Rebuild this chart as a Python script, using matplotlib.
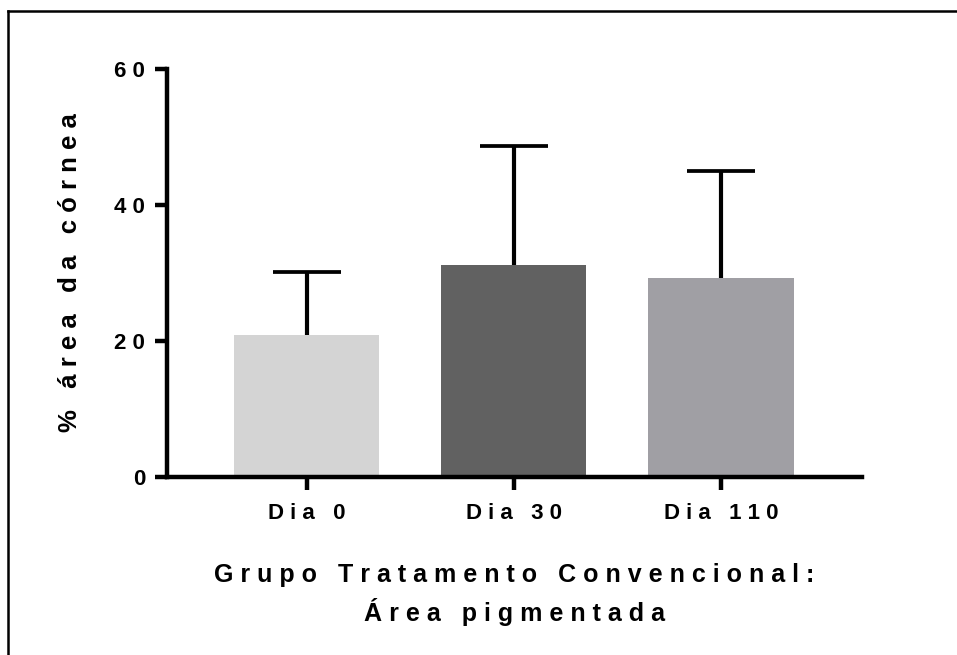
import numpy as np
import matplotlib
matplotlib.use("Agg")
import matplotlib.pyplot as plt
from matplotlib.lines import Line2D

plt.rcParams["font.family"] = ["Liberation Sans", "DejaVu Sans"]
plt.rcParams["font.weight"] = "bold"

# mean and upper SD per time point
groups = ["Dia 0", "Dia 30", "Dia 110"]
means = [20.9, 31.1, 29.3]
sds = [9.2, 17.5, 15.7]
colors = ["#d4d4d4", "#616161", "#a09fa4"]
yticks = [0, 20, 40, 60]


def spaced(s):
    # wide tracking, Prism style
    return " ".join(s)


fig = plt.figure(figsize=(9.57, 6.55), dpi=100)
ax = fig.add_axes([0.175, 0.2718, 0.7254, 0.6229])

x = np.arange(len(groups))
ax.bar(x, means, width=0.70, color=colors, edgecolor="none", zorder=2)
_, caps, _ = ax.errorbar(x, means, yerr=[np.zeros(len(sds)), sds], fmt="none",
                         ecolor="black", elinewidth=3.0, capsize=24.8,
                         capthick=2.7, zorder=3)
# only the upper cap is shown
for cl in caps:
    if np.allclose(cl.get_ydata(), means):
        cl.set_visible(False)

ax.set_xlim(-0.671, 2.679)
ax.set_ylim(0, 60)
ax.set_xticks(x)
ax.set_xticklabels([spaced(g) for g in groups], fontsize=16, fontweight="bold")
ax.set_yticks(yticks)
ax.set_yticklabels([spaced(str(t)) for t in yticks], fontsize=16, fontweight="bold")

for side in ("top", "right"):
    ax.spines[side].set_visible(False)
for side in ("left", "bottom"):
    ax.spines[side].set_linewidth(3.2)
ax.tick_params(axis="both", width=3.2, length=9, direction="out")
ax.tick_params(axis="x", pad=10)
ax.tick_params(axis="y", pad=7)

ax.set_ylabel(spaced("% área da córnea"), fontsize=18.5, fontweight="bold", labelpad=23)
ax.set_xlabel(spaced("Grupo Tratamento Convencional:") + "\n" + spaced("Área pigmentada"),
              fontsize=18, fontweight="bold", labelpad=28, linespacing=1.45)

# outer frame (top and left edges)
fig.add_artist(Line2D([8 / 957, 1.0], [1 - 11 / 655, 1 - 11 / 655],
                      transform=fig.transFigure, color="black", lw=1.8))
fig.add_artist(Line2D([8 / 957, 8 / 957], [0.0, 1 - 11 / 655],
                      transform=fig.transFigure, color="black", lw=1.8))

fig.savefig("out.png", dpi=100)
